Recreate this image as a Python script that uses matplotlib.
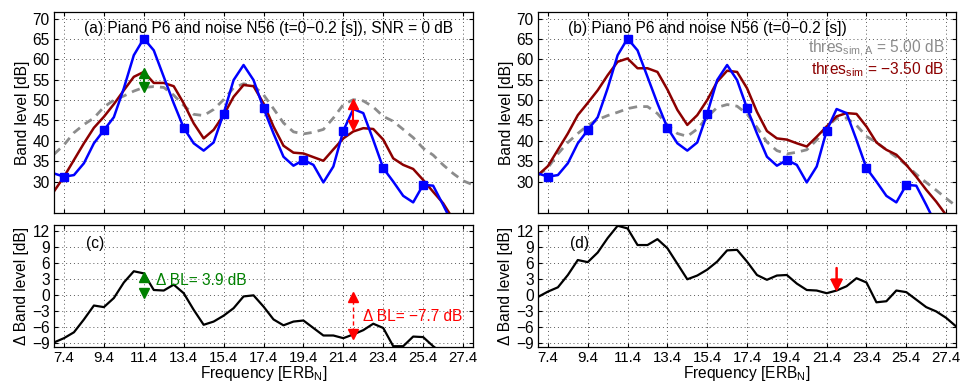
import matplotlib
matplotlib.use('Agg')
import matplotlib.pyplot as plt

plt.rcParams['font.family'] = ['Liberation Sans', 'DejaVu Sans']
plt.rcParams['mathtext.fontset'] = 'custom'
plt.rcParams['mathtext.rm'] = 'Liberation Sans'
plt.rcParams['axes.unicode_minus'] = True

# Frequenzachse in ERB_N, Schritt 0.5
erb = [6.9 + 0.5 * i for i in range(43)]

# Klavier P6 (blau), gleich in (a) und (b)
piano = [32.0, 31.2, 31.6, 34.5, 39.4, 42.6, 45.8, 52.9, 61.0, 65.1,
         62.2, 55.7, 49.2, 43.2, 39.4, 37.6, 39.6, 46.7, 54.9, 58.6,
         54.9, 48.0, 41.8, 36.1, 33.9, 35.3, 34.1, 29.8, 33.7, 42.5,
         47.8, 46.8, 40.2, 33.3, 30.0, 26.5, 24.9, 29.2, 29.0, 24.3,
         19.4, 15.0, 11.0]
marker_erb = [7.4, 9.4, 11.4, 13.4, 15.4, 17.4, 19.4, 21.4, 23.4, 25.4]
marker_val = [31.2, 42.6, 65.1, 43.2, 46.7, 48.0, 35.3, 42.5, 33.3, 29.2]

# (a) Gemisch SNR = 0 dB (dunkelrot) und Schwelle (grau gestrichelt)
mix_a = [27.6, 31.2, 35.3, 39.4, 43.2, 45.9, 49.0, 52.4, 55.7, 56.9,
         54.2, 54.2, 53.4, 49.2, 44.3, 40.6, 42.7, 46.3, 50.8, 53.7,
         53.4, 49.2, 43.5, 38.8, 37.1, 36.9, 36.0, 35.1, 37.9, 40.6,
         42.3, 43.1, 42.9, 40.3, 35.7, 34.1, 33.1, 30.4, 27.5, 24.7,
         20.8, 17.0, 14.0]
thr_a = [36.7, 39.0, 42.0, 44.0, 45.6, 48.3, 50.0, 51.0, 52.2, 53.1,
         53.3, 53.1, 51.2, 48.7, 46.5, 46.2, 47.7, 50.1, 53.0, 54.0,
         53.5, 51.3, 47.9, 44.4, 42.2, 41.7, 42.1, 42.8, 45.6, 48.9,
         50.1, 49.8, 48.3, 46.0, 44.8, 42.8, 40.8, 38.2, 36.5, 34.1,
         32.0, 30.2, 29.2]

# (b) Simulation (dunkelrot) und Schwelle (grau gestrichelt)
mix_b = [31.6, 33.8, 37.8, 41.8, 46.3, 49.3, 52.4, 56.1, 59.4, 60.2,
         57.8, 57.8, 56.9, 52.6, 47.6, 43.9, 46.3, 50.0, 54.5, 57.2,
         56.9, 52.9, 47.1, 42.4, 40.6, 40.3, 39.4, 38.6, 41.0, 43.5,
         46.0, 46.8, 46.6, 43.5, 39.6, 37.8, 36.6, 34.1, 31.2, 28.0,
         25.1, 21.8, 18.5]
thr_b = [31.6, 33.4, 36.8, 39.6, 41.8, 43.8, 45.2, 46.2, 47.0, 47.9,
         48.4, 48.4, 46.7, 43.9, 41.8, 41.1, 42.9, 45.8, 48.2, 48.9,
         48.5, 46.6, 43.3, 39.7, 37.6, 36.8, 37.2, 37.8, 40.2, 43.5,
         45.5, 45.6, 43.8, 41.1, 39.6, 37.8, 36.0, 34.1, 31.8, 29.8,
         27.9, 25.9, 24.0]

# Differenzen (c) und (d)
diff_c = [-8.9, -8.1, -7.0, -4.6, -2.0, -2.3, -0.6, 2.3, 4.4, 4.0,
          0.9, 0.8, 1.9, 0.3, -2.8, -5.6, -5.0, -3.9, -2.5, -0.3,
          -0.1, -2.2, -4.6, -5.7, -5.0, -4.8, -6.2, -7.6, -7.6, -8.1,
          -7.4, -6.6, -5.4, -6.2, -9.6, -9.6, -7.8, -7.9, -9.6, -11.0,
          -12.0, -13.0, -14.0]
diff_d = [-0.4, 0.6, 1.4, 3.7, 6.5, 6.1, 7.9, 10.6, 12.9, 12.4,
          9.3, 9.3, 10.4, 8.7, 5.8, 2.9, 3.6, 4.7, 6.2, 8.3,
          8.4, 6.2, 3.7, 2.8, 3.6, 3.7, 2.1, 0.9, 0.8, 0.3,
          0.8, 1.6, 3.1, 2.3, -1.4, -1.2, 0.8, 0.5, -0.9, -2.3,
          -3.1, -4.3, -5.9]

xticks = [7.4, 9.4, 11.4, 13.4, 15.4, 17.4, 19.4, 21.4, 23.4, 25.4, 27.4]
yticks_top = [30, 35, 40, 45, 50, 55, 60, 65, 70]
yticks_bot = [-9, -6, -3, 0, 3, 6, 9, 12]

blue = (0, 0, 1)
dred = (0.55, 0, 0)
gray = (0.55, 0.55, 0.55)
green = (0, 0.5, 0)
red = (1, 0, 0)
fs = 11.2

fig = plt.figure(figsize=(9.6, 3.85), dpi=100)
ax_a = fig.add_axes([0.05625, 0.4468, 0.4365, 0.522])
ax_b = fig.add_axes([0.5604, 0.4468, 0.4355, 0.522])
ax_c = fig.add_axes([0.05625, 0.0987, 0.4365, 0.317])
ax_d = fig.add_axes([0.5604, 0.0987, 0.4355, 0.317])


def style(ax, yt, ylim, ylabel, show_x):
    ax.set_xlim(6.9, 27.9)
    ax.set_ylim(*ylim)
    ax.set_xticks(xticks)
    ax.set_yticks(yt)
    ax.set_yticklabels([str(v).replace('-', '\u2212') for v in yt])
    ax.set_xticklabels([str(v) for v in xticks] if show_x else [])
    ax.tick_params(direction='in', length=3, width=0.8, top=True, right=True,
                   labelsize=fs, pad=3)
    ax.tick_params(axis='x', labelsize=10.8)
    ax.grid(True, linestyle=(0, (1, 3)), color='0.35', linewidth=0.7)
    ax.set_ylabel(ylabel, fontsize=fs, labelpad=2)
    for s in ax.spines.values():
        s.set_linewidth(0.9)
    if show_x:
        ax.set_xlabel('Frequency [ERB$_\\mathrm{N}$]', fontsize=fs, labelpad=-1)


# (a)
ax_a.plot(erb, thr_a, '--', color=gray, lw=2, dashes=(3, 2.2))
ax_a.plot(erb, mix_a, '-', color=dred, lw=1.8)
ax_a.plot(erb, piano, '-', color=blue, lw=1.8)
ax_a.plot(marker_erb, marker_val, 's', color=blue, ms=6)
ax_a.plot([11.4, 11.4], [53.2, 56.6], '-', color=green, lw=1.5)
ax_a.plot([11.4], [56.6], '^', color=green, ms=7)
ax_a.plot([11.4], [53.2], 'v', color=green, ms=7)
ax_a.plot([21.9, 21.9], [44.0, 49.0], '-', color=red, lw=1.5)
ax_a.plot([21.9], [49.0], '^', color=red, ms=7)
ax_a.plot([21.9], [44.0], 'v', color=red, ms=7)
ax_a.text(8.4, 67.6, '(a) Piano P6 and noise N56 (t=0\u22120.2 [s]), SNR = 0 dB',
          fontsize=fs, va='center', ha='left')
style(ax_a, yticks_top, (22.3, 71.6), 'Band level [dB]', False)

# (b)
ax_b.plot(erb, thr_b, '--', color=gray, lw=2, dashes=(3, 2.2))
ax_b.plot(erb, mix_b, '-', color=dred, lw=1.8)
ax_b.plot(erb, piano, '-', color=blue, lw=1.8)
ax_b.plot(marker_erb, marker_val, 's', color=blue, ms=6)
ax_b.text(8.4, 67.6, '(b) Piano P6 and noise N56 (t=0\u22120.2 [s])',
          fontsize=fs, va='center', ha='left')
ax_b.text(27.3, 62.6, 'thres$_{\\mathrm{sim,A}}$ = 5.00 dB', color=gray,
          fontsize=fs, va='center', ha='right')
ax_b.text(27.3, 57.4, 'thres$_{\\mathrm{sim}}$ = \u22123.50 dB', color=dred,
          fontsize=fs, va='center', ha='right')
style(ax_b, yticks_top, (22.3, 71.6), 'Band level [dB]', False)

# (c)
ax_c.plot(erb, diff_c, '-', color='k', lw=1.6)
ax_c.plot([11.4], [3.3], '^', color=green, ms=7)
ax_c.plot([11.4], [0.4], 'v', color=green, ms=7)
ax_c.text(12.0, 2.6, '\u0394 BL= 3.9 dB', color=green, fontsize=fs, va='center')
ax_c.plot([21.9, 21.9], [-7.0, -0.8], '--', color=red, lw=1, dashes=(3, 2))
ax_c.plot([21.9], [-0.5], '^', color=red, ms=7)
ax_c.plot([21.9], [-7.3], 'v', color=red, ms=7)
ax_c.text(22.37, -4.0, '\u0394 BL= \u22127.7 dB', color=red, fontsize=fs, va='center')
ax_c.text(8.5, 9.6, '(c)', fontsize=fs, va='center')
style(ax_c, yticks_bot, (-9.75, 13.05), '\u0394 Band level [dB]', True)

# (d)
ax_d.plot(erb, diff_d, '-', color='k', lw=1.6)
ax_d.annotate('', xy=(21.9, 0.5), xytext=(21.9, 5.0),
              arrowprops=dict(arrowstyle='-|>,head_width=0.35,head_length=0.7',
                              color=red, lw=1.8, shrinkA=0, shrinkB=0))
ax_d.text(8.5, 9.6, '(d)', fontsize=fs, va='center')
style(ax_d, yticks_bot, (-9.75, 13.05), '\u0394 Band level [dB]', True)

fig.savefig('out.png', dpi=100)
